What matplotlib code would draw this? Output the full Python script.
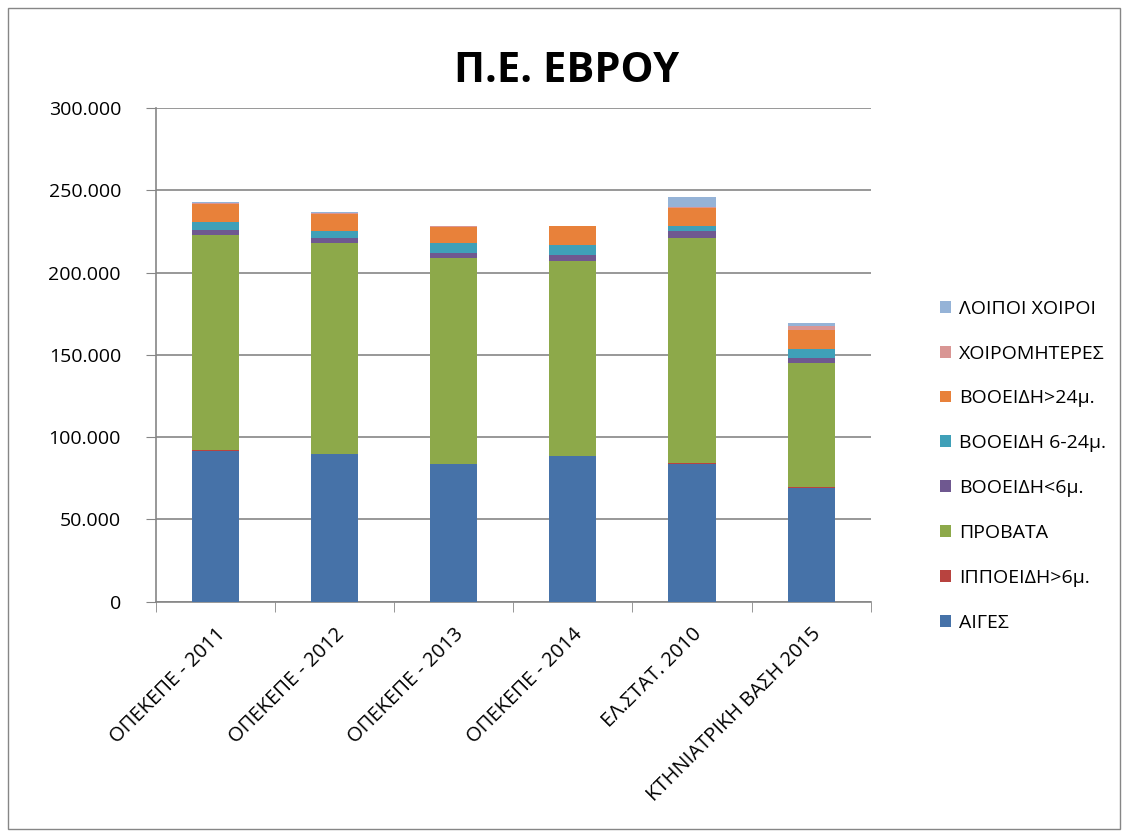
import numpy as np
import matplotlib
matplotlib.use('Agg')
import matplotlib.pyplot as plt
from matplotlib.patches import Rectangle
from matplotlib.ticker import FuncFormatter, FixedLocator

plt.rcParams['font.family'] = ['Open Sans', 'DejaVu Sans']

# κατηγορίες (άξονας x)
categories = ['ΟΠΕΚΕΠΕ - 2011', 'ΟΠΕΚΕΠΕ - 2012', 'ΟΠΕΚΕΠΕ - 2013',
              'ΟΠΕΚΕΠΕ - 2014', 'ΕΛ.ΣΤΑΤ. 2010', 'ΚΤΗΝΙΑΤΡΙΚΗ ΒΑΣΗ 2015']

# σειρές (από κάτω προς τα πάνω)
aiges = [91500, 89500, 83400, 88300, 83900, 69300]
ippoeidi = [600, 500, 500, 500, 600, 500]
provata = [130500, 127800, 125200, 118300, 136300, 75000]
vooeidi_6 = [3100, 3000, 3000, 3600, 4500, 3100]
vooeidi_6_24 = [5200, 4500, 5700, 6100, 3000, 5700]
vooeidi_24 = [10600, 10500, 10000, 11200, 11000, 11500]
xoiromiteres = [700, 600, 300, 200, 700, 2500]
loipoi_xoiroi = [800, 600, 200, 100, 6000, 1500]

series = [
    ('ΑΙΓΕΣ', aiges, '#4672A8'),
    ('ΙΠΠΟΕΙΔΗ>6μ.', ippoeidi, '#B8433F'),
    ('ΠΡΟΒΑΤΑ', provata, '#8DA94A'),
    ('ΒΟΟΕΙΔΗ<6μ.', vooeidi_6, '#6F5890'),
    ('ΒΟΟΕΙΔΗ 6-24μ.', vooeidi_6_24, '#3FA0B8'),
    ('ΒΟΟΕΙΔΗ>24μ.', vooeidi_24, '#E8813A'),
    ('ΧΟΙΡΟΜΗΤΕΡΕΣ', xoiromiteres, '#D99694'),
    ('ΛΟΙΠΟΙ ΧΟΙΡΟΙ', loipoi_xoiroi, '#95B3D7'),
]

fig = plt.figure(figsize=(11.28, 8.36), dpi=100)
ax = fig.add_axes([0.138, 0.2803, 0.634, 0.5905])

x = np.arange(len(categories))
bottom = np.zeros(len(categories))
handles = []
for name, vals, col in series:
    b = ax.bar(x, vals, width=0.395, bottom=bottom, color=col, label=name, zorder=3)
    handles.append(b)
    bottom += np.array(vals)

ax.set_xlim(-0.5, len(categories) - 0.5)
ax.set_ylim(0, 300000)
ax.set_yticks(np.arange(0, 300001, 50000))
ax.yaxis.set_major_formatter(FuncFormatter(lambda v, p: f'{int(v):,}'.replace(',', '.')))
ax.grid(axis='y', color='#868686', linewidth=1.2, zorder=0)

# άξονας x: ετικέτες στο κέντρο, γραμμές στα όρια
ax.set_xticks(x)
ax.set_xticklabels(categories, rotation=45, ha='right', rotation_mode='anchor',
                   fontsize=14.5)
ax.tick_params(axis='x', which='major', length=0, pad=16)
ax.xaxis.set_minor_locator(FixedLocator(np.arange(-0.5, len(categories), 1)))
ax.tick_params(axis='x', which='minor', length=7, color='#868686')
ax.tick_params(axis='y', length=7, color='#868686', labelsize=14, pad=18)

for s in ['top', 'right']:
    ax.spines[s].set_visible(False)
for s in ['left', 'bottom']:
    ax.spines[s].set_color('#868686')
    ax.spines[s].set_linewidth(1.2)

fig.text(0.502, 0.914, 'Π.Ε. ΕΒΡΟΥ', ha='center', va='center',
         fontsize=30, fontweight='bold')

fig.legend(handles[::-1], [s[0] for s in series][::-1], loc='center left',
           bbox_to_anchor=(0.818, 0.443), frameon=False, fontsize=14,
           handlelength=0.55, handleheight=0.55, handletextpad=0.4, labelspacing=1.38)

# πλαίσιο γραφήματος
fig.patches.append(Rectangle((0.007, 0.008), 0.986, 0.982, transform=fig.transFigure,
                             fill=False, edgecolor='#868686', linewidth=1.0))

fig.savefig('out.png', dpi=100)
